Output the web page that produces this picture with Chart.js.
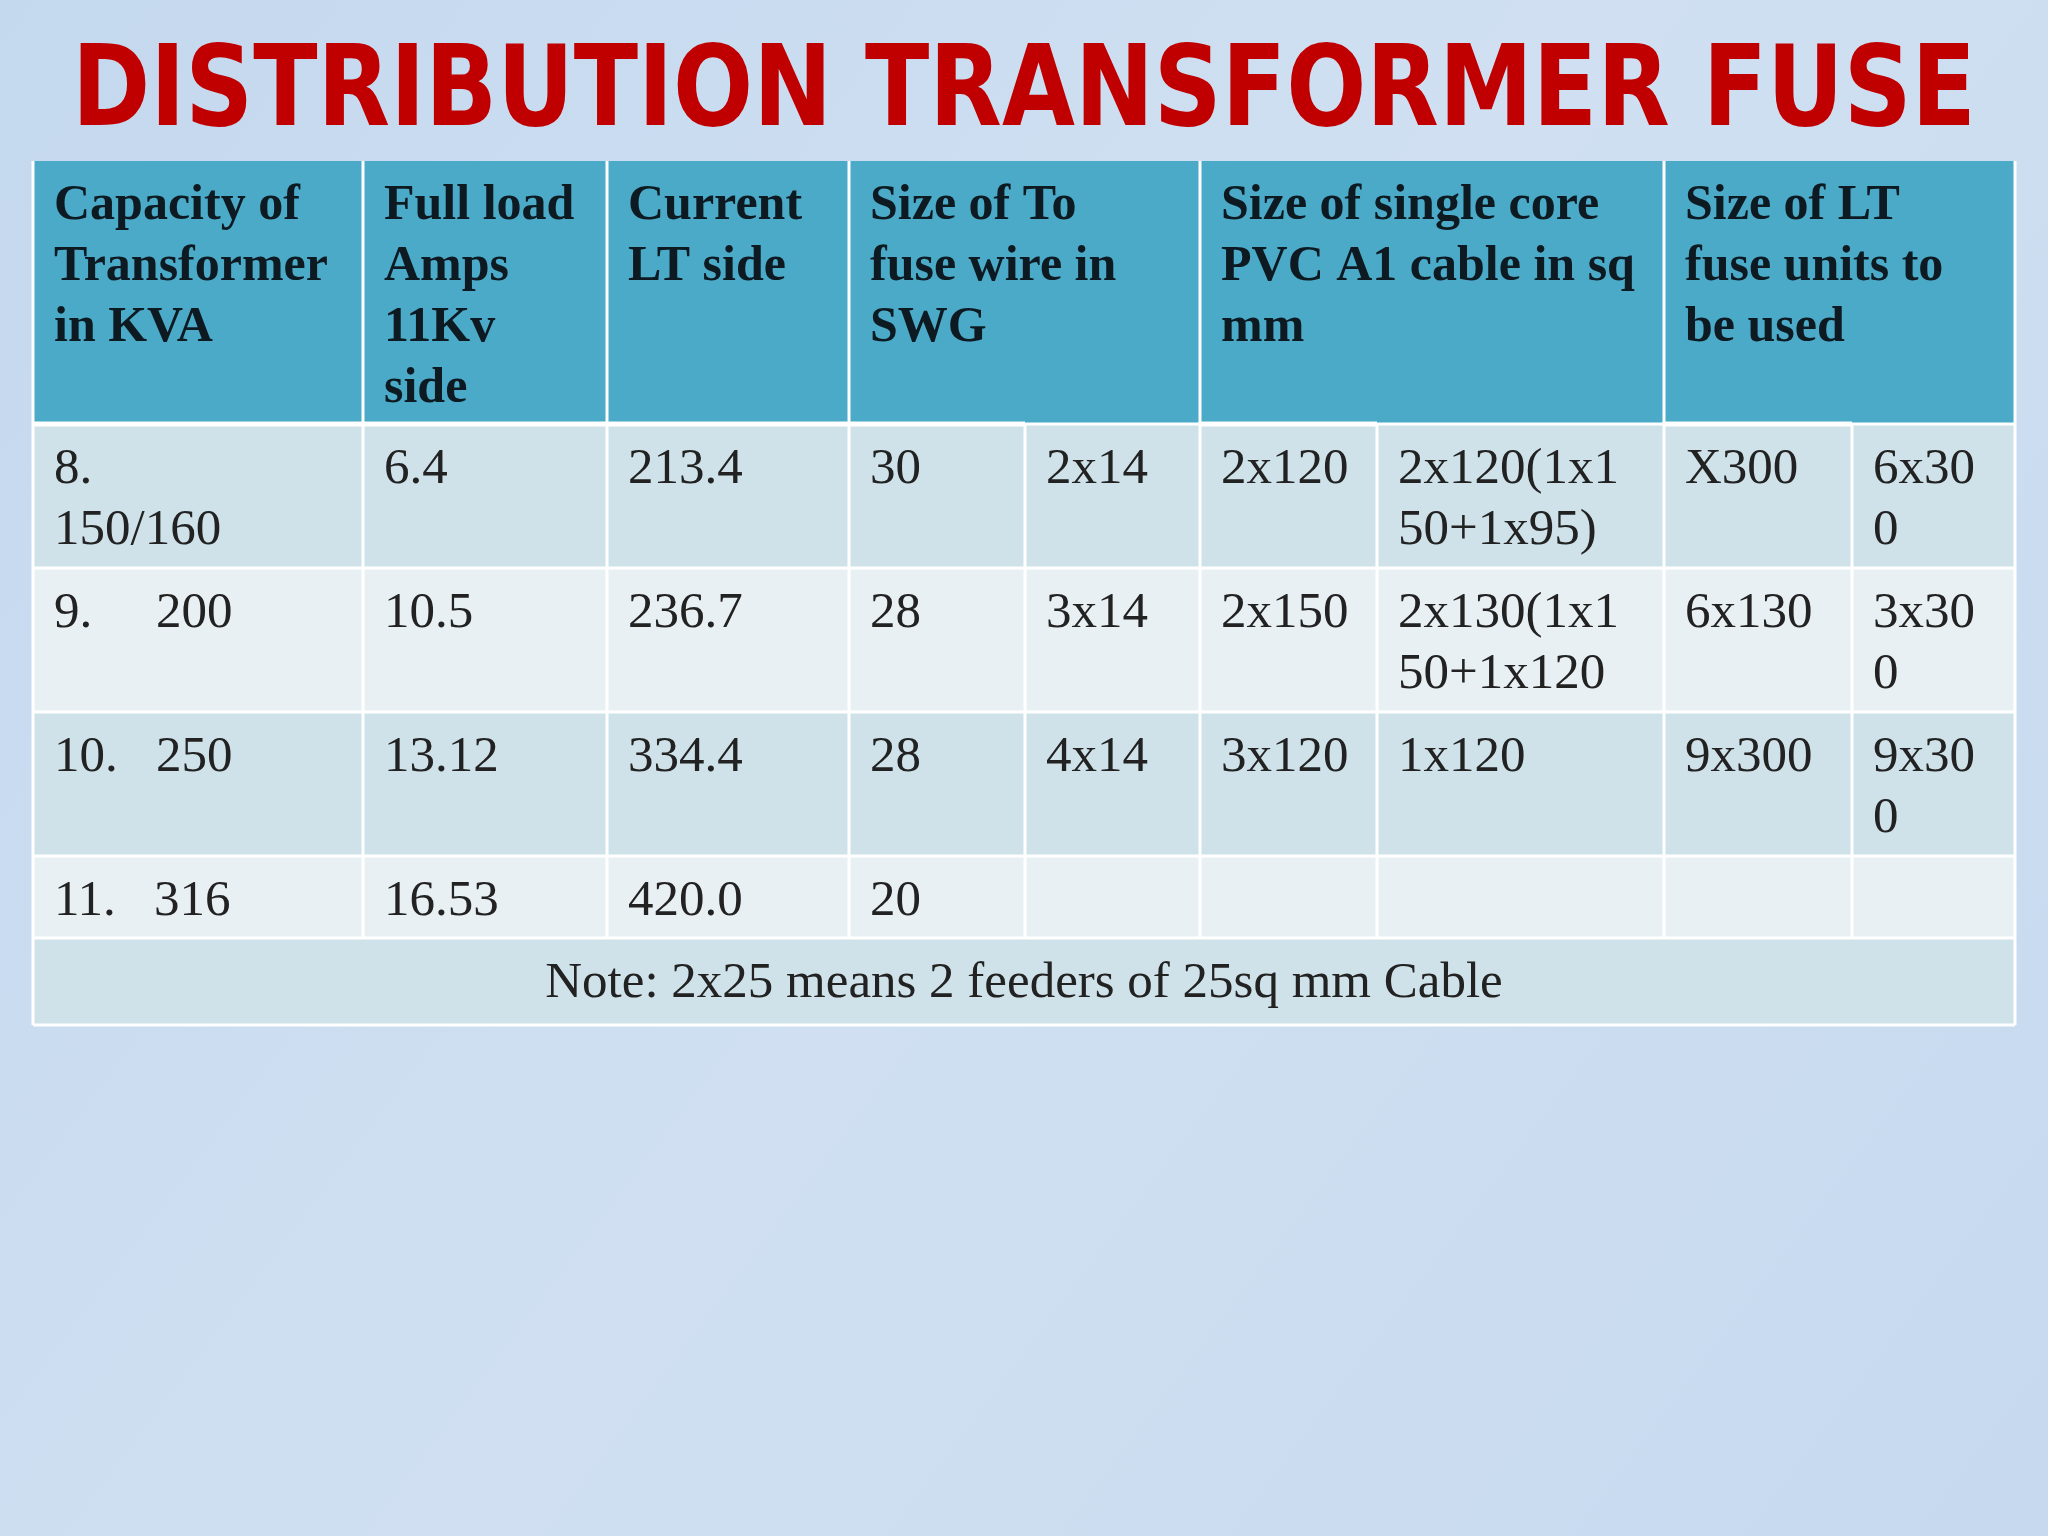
<!DOCTYPE html>
<html>
<head>
<meta charset="utf-8">
<script src="https://cdn.jsdelivr.net/npm/chart.js@4"></script>
<style>
  html, body { margin: 0; padding: 0; background: #c9dbef; }
  canvas { display: block; }
</style>
</head>
<body>
<canvas id="tabla" width="2048" height="1536"></canvas>
<script>
// slide content
const titulo = 'DISTRIBUTION TRANSFORMER FUSE';
const encabezados = [
  'Capacity of\nTransformer\nin KVA',
  'Full load\nAmps\n11Kv\nside',
  'Current\nLT side',
  'Size of To\nfuse wire in\nSWG',
  'Size of single core\nPVC A1 cable in sq\nmm',
  'Size of LT\nfuse units to\nbe used'
];
const spanEncabezado = [1, 1, 1, 2, 2, 2];
const filas = [
  ['8.\n150/160', '6.4', '213.4', '30', '2x14', '2x120', '2x120(1x1\n50+1x95)', 'X300', '6x30\n0'],
  ['9.     200', '10.5', '236.7', '28', '3x14', '2x150', '2x130(1x1\n50+1x120', '6x130', '3x30\n0'],
  ['10.   250', '13.12', '334.4', '28', '4x14', '3x120', '1x120', '9x300', '9x30\n0'],
  ['11.   316', '16.53', '420.0', '20', '', '', '', '', '']
];
const nota = 'Note: 2x25 means 2 feeders of 25sq mm Cable';

// layout
const colX = [33, 363, 607, 849, 1025, 1200, 1377, 1664, 1852, 2015];
const rowY = [161, 424, 568, 712, 856, 938, 1025];

const dibujarTabla = {
  id: 'dibujarTabla',
  beforeDraw(chart) {
    const ctx = chart.ctx;
    const W = chart.width, H = chart.height;
    const g = ctx.createLinearGradient(0, 0, W, H);
    g.addColorStop(0, '#c4d8ee');
    g.addColorStop(0.5, '#d0e0f2');
    g.addColorStop(1, '#c6d9ee');
    ctx.fillStyle = g;
    ctx.fillRect(0, 0, W, H);

    // title
    ctx.save();
    ctx.fillStyle = '#c00000';
    ctx.font = 'bold 112px "Liberation Sans Narrow", "DejaVu Sans Condensed", Lato';
    ctx.textAlign = 'center';
    ctx.textBaseline = 'middle';
    const w = ctx.measureText(titulo).width;
    const sx = Math.min(1, 1904 / w);
    ctx.translate(1024, 96);
    ctx.scale(sx, 1);
    ctx.fillText(titulo, 0, 0);
    ctx.restore();

    // header
    ctx.fillStyle = '#4baac8';
    ctx.fillRect(colX[0], rowY[0], colX[9] - colX[0], rowY[1] - rowY[0]);
    // body rows
    const fondos = ['#cfe2e9', '#e9f0f4', '#cfe2e9', '#e9f0f4', '#cfe2e9'];
    for (let r = 0; r < 5; r++) {
      ctx.fillStyle = fondos[r];
      ctx.fillRect(colX[0], rowY[r + 1], colX[9] - colX[0], rowY[r + 2] - rowY[r + 1]);
    }

    ctx.strokeStyle = '#ffffff';
    ctx.lineWidth = 3;
    // horizontal lines
    for (let r = 1; r < 7; r++) {
      ctx.beginPath();
      ctx.moveTo(colX[0], rowY[r]);
      ctx.lineTo(colX[9], rowY[r]);
      ctx.stroke();
    }
    ctx.lineWidth = 5;
    ctx.beginPath();
    ctx.moveTo(colX[0], rowY[1]); ctx.lineTo(colX[4], rowY[1]);
    ctx.moveTo(colX[5], rowY[1]); ctx.lineTo(colX[6], rowY[1]);
    ctx.moveTo(colX[7], rowY[1]); ctx.lineTo(colX[8], rowY[1]);
    ctx.stroke();
    ctx.lineWidth = 3;
    // vertical lines
    ctx.beginPath();
    let c = 0;
    for (let i = 0; i <= spanEncabezado.length; i++) {
      ctx.moveTo(colX[c], rowY[0]); ctx.lineTo(colX[c], rowY[1]);
      c += spanEncabezado[i] || 0;
    }
    for (let k = 0; k < colX.length; k++) {
      ctx.moveTo(colX[k], rowY[1]); ctx.lineTo(colX[k], rowY[5]);
    }
    ctx.moveTo(colX[0], rowY[0]); ctx.lineTo(colX[0], rowY[6]);
    ctx.moveTo(colX[9], rowY[0]); ctx.lineTo(colX[9], rowY[6]);
    ctx.stroke();

    // header text
    ctx.textAlign = 'left';
    ctx.textBaseline = 'middle';
    ctx.fillStyle = '#0d1a22';
    ctx.font = 'bold 50px "Liberation Serif", "DejaVu Serif", serif';
    c = 0;
    encabezados.forEach((t, i) => {
      t.split('\n').forEach((l, j) => ctx.fillText(l, colX[c] + 21, rowY[0] + 45 + j * 61));
      c += spanEncabezado[i];
    });

    // body text
    ctx.fillStyle = '#222222';
    ctx.font = '51px "Liberation Serif", "DejaVu Serif", serif';
    filas.forEach((f, r) => {
      f.forEach((t, k) => {
        t.split('\n').forEach((l, j) =>
          ctx.fillText(l, colX[k] + 21, rowY[r + 1] + 46 + j * 61));
      });
    });
    ctx.textAlign = 'center';
    ctx.fillText(nota, (colX[0] + colX[9]) / 2, (rowY[5] + rowY[6]) / 2 + 2);
  }
};

new Chart(document.getElementById('tabla'), {
  type: 'bar',
  data: { labels: [], datasets: [] },
  options: {
    responsive: false,
    animation: false,
    devicePixelRatio: 1,
    plugins: { legend: { display: false }, tooltip: { enabled: false } },
    scales: { x: { display: false }, y: { display: false } }
  },
  plugins: [dibujarTabla]
});
</script>
</body>
</html>
